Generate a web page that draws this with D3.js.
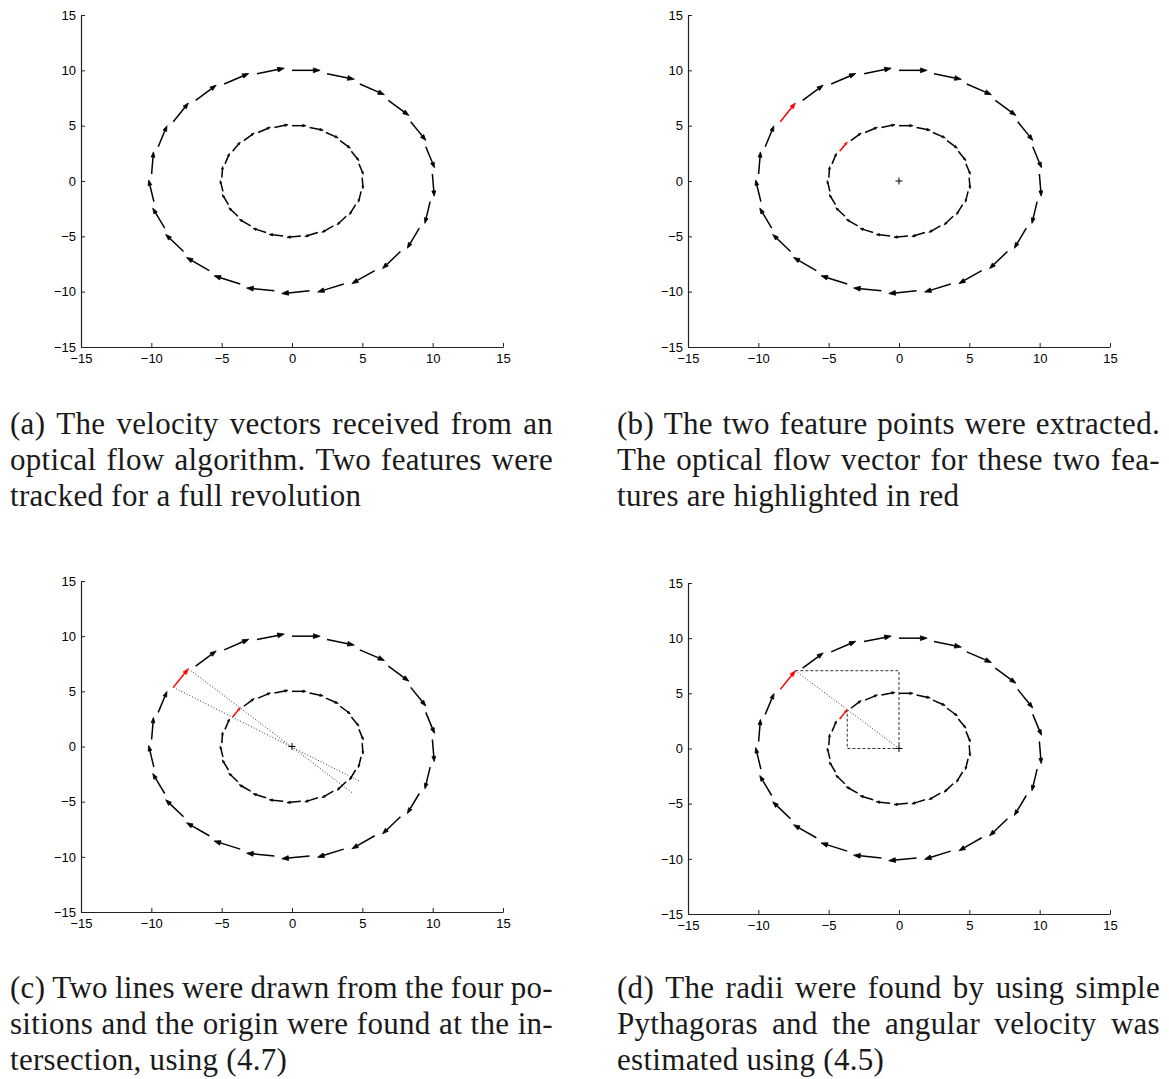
<!DOCTYPE html>
<html>
<head>
<meta charset="utf-8">
<script src="https://cdn.jsdelivr.net/npm/d3@7"></script>
<style>
  body { margin: 0; background: #fff; }
  svg { display: block; }
  .tick text { font-family: "Liberation Sans", Arial, sans-serif; font-size: 13px; fill: #000; }
  .axis path, .axis line { stroke: #222; }
  .caption { font-family: "Liberation Serif", "Times New Roman", serif; font-size: 31px; letter-spacing: 0.3px; fill: #1a1a1a; }
</style>
</head>
<body>
<svg id="fig" width="1169" height="1079"></svg>
<script>
// ticks
const xTicks = [-15, -10, -5, 0, 5, 10, 15];
const yTicks = [-15, -10, -5, 0, 5, 10, 15];

// outer feature (r = 10): tails and velocity vectors
const outerX = [0, 2.49, 4.82, 6.85, 8.44, 9.51, 9.98, 9.82, 9.05, 7.71, 5.88, 3.68, 1.25,
  -1.25, -3.68, -5.88, -7.71, -9.05, -9.82, -9.98, -9.51, -8.44, -6.85, -4.82, -2.49];
const outerY = [10, 9.69, 8.76, 7.29, 5.36, 3.09, 0.63, -1.87, -4.26, -6.37, -8.09, -9.30, -9.92,
  -9.92, -9.30, -8.09, -6.37, -4.26, -1.87, 0.63, 3.09, 5.36, 7.29, 8.76, 9.69];
const outerU = [2.00, 1.94, 1.75, 1.46, 1.07, 0.62, 0.13, -0.37, -0.85, -1.27, -1.62, -1.86, -1.98,
  -1.98, -1.86, -1.62, -1.27, -0.85, -0.37, 0.13, 0.62, 1.07, 1.46, 1.75, 1.94];
const outerV = [0.00, -0.50, -0.96, -1.37, -1.69, -1.90, -2.00, -1.96, -1.81, -1.54, -1.18, -0.74, -0.25,
  0.25, 0.74, 1.18, 1.54, 1.81, 1.96, 2.00, 1.90, 1.69, 1.37, 0.96, 0.50];

// inner feature (r = 5)
const innerX = [0, 1.25, 2.41, 3.42, 4.22, 4.76, 4.99, 4.91, 4.52, 3.85, 2.94, 1.84, 0.63,
  -0.63, -1.84, -2.94, -3.85, -4.52, -4.91, -4.99, -4.76, -4.22, -3.42, -2.41, -1.25];
const innerY = [5, 4.84, 4.38, 3.65, 2.68, 1.55, 0.31, -0.94, -2.13, -3.19, -4.05, -4.65, -4.96,
  -4.96, -4.65, -4.05, -3.19, -2.13, -0.94, 0.31, 1.55, 2.68, 3.65, 4.38, 4.84];
const innerU = [1.00, 0.97, 0.88, 0.73, 0.54, 0.31, 0.06, -0.19, -0.43, -0.64, -0.81, -0.93, -0.99,
  -0.99, -0.93, -0.81, -0.64, -0.43, -0.19, 0.06, 0.31, 0.54, 0.73, 0.88, 0.97];
const innerV = [0.00, -0.25, -0.48, -0.69, -0.84, -0.95, -1.00, -0.98, -0.91, -0.77, -0.59, -0.37, -0.13,
  0.13, 0.37, 0.59, 0.77, 0.91, 0.98, 1.00, 0.95, 0.84, 0.69, 0.48, 0.25];

// index of the tracked vector (red)
const HIGHLIGHT = 21;

// (c) lines through the two positions
const lineX1 = [-8.44, -7.37];
const lineY1 = [5.36, 7.05];
const lineX2 = [4.83, 4.36];
const lineY2 = [-3.16, -4.27];

// (d) pythagoras construction
const boxX = [-7.37, 0, 0, -3.68, -3.68];
const boxY = [7.05, 7.05, 0, 0, 3.52];
const diagX = [-7.37, 0];
const diagY = [7.05, 0];

// captions
const captionA = ["(a) The velocity vectors received from an", "optical flow algorithm.  Two features were", "tracked for a full revolution"];
const captionB = ["(b) The two feature points were extracted.", "The optical flow vector for these two fea-", "tures are highlighted in red"];
const captionC = ["(c) Two lines were drawn from the four po-", "sitions and the origin were found at the in-", "tersection, using (4.7)"];
const captionD = ["(d) The radii were found by using simple", "Pythagoras and the angular velocity was", "estimated using (4.5)"];

const svg = d3.select("#fig");
const fmt = d => d < 0 ? "\u2212" + Math.abs(d) : String(d);

function drawQuiver(g, x, y, xs, ys, us, vs, hi) {
  const rows = xs.map((d, i) => {
    const x0 = x(d), y0 = y(ys[i]), x1 = x(d + us[i]), y1 = y(ys[i] + vs[i]);
    const dx = x1 - x0, dy = y1 - y0, L = Math.hypot(dx, dy);
    const ux = dx / L, uy = dy / L, hl = 0.24 * L, hw = 0.085 * L;
    const bx = x1 - ux * hl, by = y1 - uy * hl;
    return { x0, y0, x1, y1, bx, by, nx: -uy * hw, ny: ux * hw, c: i === hi ? "#ff0000" : "#000" };
  });
  const a = g.append("g").selectAll("g").data(rows).enter().append("g");
  a.append("line")
    .attr("x1", d => d.x0).attr("y1", d => d.y0)
    .attr("x2", d => d.bx).attr("y2", d => d.by)
    .attr("stroke", d => d.c).attr("stroke-width", 1.5);
  a.append("path")
    .attr("d", d => `M${d.bx + d.nx},${d.by + d.ny}L${d.x1},${d.y1}L${d.bx - d.nx},${d.by - d.ny}Z`)
    .attr("fill", d => d.c).attr("stroke", d => d.c).attr("stroke-width", 0.8)
    .attr("stroke-linejoin", "round");
}

function drawPlus(g, x, y) {
  const cx = x(0), cy = y(0);
  g.append("path").attr("d", `M${cx - 3.5},${cy}H${cx + 3.5}M${cx},${cy - 3.5}V${cy + 3.5}`)
    .attr("stroke", "#000").attr("stroke-width", 1);
}

function drawPanel(p) {
  const g = svg.append("g");
  const x = d3.scaleLinear().domain([-15, 15]).range([p.left, p.right]);
  const y = d3.scaleLinear().domain([-15, 15]).range([p.bottom, p.top]);

  g.append("g").attr("class", "axis").attr("transform", `translate(0,${p.bottom})`)
    .call(d3.axisBottom(x).tickValues(xTicks).tickFormat(fmt).tickSizeInner(-4).tickSizeOuter(0).tickPadding(7))
    .call(s => s.select(".domain").attr("stroke-width", 1.2));
  g.append("g").attr("class", "axis").attr("transform", `translate(${p.left},0)`)
    .call(d3.axisLeft(y).tickValues(yTicks).tickFormat(fmt).tickSizeInner(-4).tickSizeOuter(0).tickPadding(5))
    .call(s => s.select(".domain").attr("stroke-width", 1.2));
  g.selectAll(".tick text").attr("font-family", null).attr("font-size", null);

  if (p.lines) {
    lineX1.forEach((d, i) => {
      g.append("line")
        .attr("x1", x(d)).attr("y1", y(lineY1[i]))
        .attr("x2", x(lineX2[i])).attr("y2", y(lineY2[i]))
        .attr("stroke", "#333").attr("stroke-width", 1).attr("stroke-dasharray", "1,2");
    });
  }
  if (p.box) {
    const line = d3.line().x(d => x(d[0])).y(d => y(d[1]));
    g.append("path").attr("d", line(boxX.map((d, i) => [d, boxY[i]])))
      .attr("fill", "none").attr("stroke", "#333").attr("stroke-width", 1).attr("stroke-dasharray", "3,2");
    g.append("path").attr("d", line(diagX.map((d, i) => [d, diagY[i]])))
      .attr("fill", "none").attr("stroke", "#333").attr("stroke-width", 1).attr("stroke-dasharray", "1,2");
  }

  drawQuiver(g, x, y, outerX, outerY, outerU, outerV, p.hi);
  drawQuiver(g, x, y, innerX, innerY, innerU, innerV, p.hi);
  if (p.origin) drawPlus(g, x, y);

  drawCaption(p.caption, p.capX, p.capY);
}

function drawCaption(lines, x0, y0) {
  const W = 543, lh = 36;
  lines.forEach((ln, i) => {
    const t = svg.append("text").attr("class", "caption").attr("y", y0 + i * lh);
    if (i === lines.length - 1) {
      t.attr("x", x0).text(ln);
      return;
    }
    const words = ln.split(/\s+/);
    const spans = words.map(w => t.append("tspan").text(w));
    const widths = spans.map(s => s.node().getComputedTextLength());
    const gap = (W - d3.sum(widths)) / (words.length - 1);
    let cx = x0;
    spans.forEach((s, j) => { s.attr("x", cx); cx += widths[j] + gap; });
  });
}

const panels = [
  { left: 81, right: 503, top: 15, bottom: 347, hi: -1, origin: false, caption: captionA, capX: 10, capY: 434 },
  { left: 688, right: 1110, top: 15, bottom: 347, hi: HIGHLIGHT, origin: true, caption: captionB, capX: 617, capY: 434 },
  { left: 81, right: 503, top: 581, bottom: 912, hi: HIGHLIGHT, origin: true, lines: true, caption: captionC, capX: 10, capY: 998 },
  { left: 688, right: 1110, top: 583, bottom: 914, hi: HIGHLIGHT, origin: true, box: true, caption: captionD, capX: 617, capY: 998 }
];
panels.forEach(drawPanel);
</script>
</body>
</html>
